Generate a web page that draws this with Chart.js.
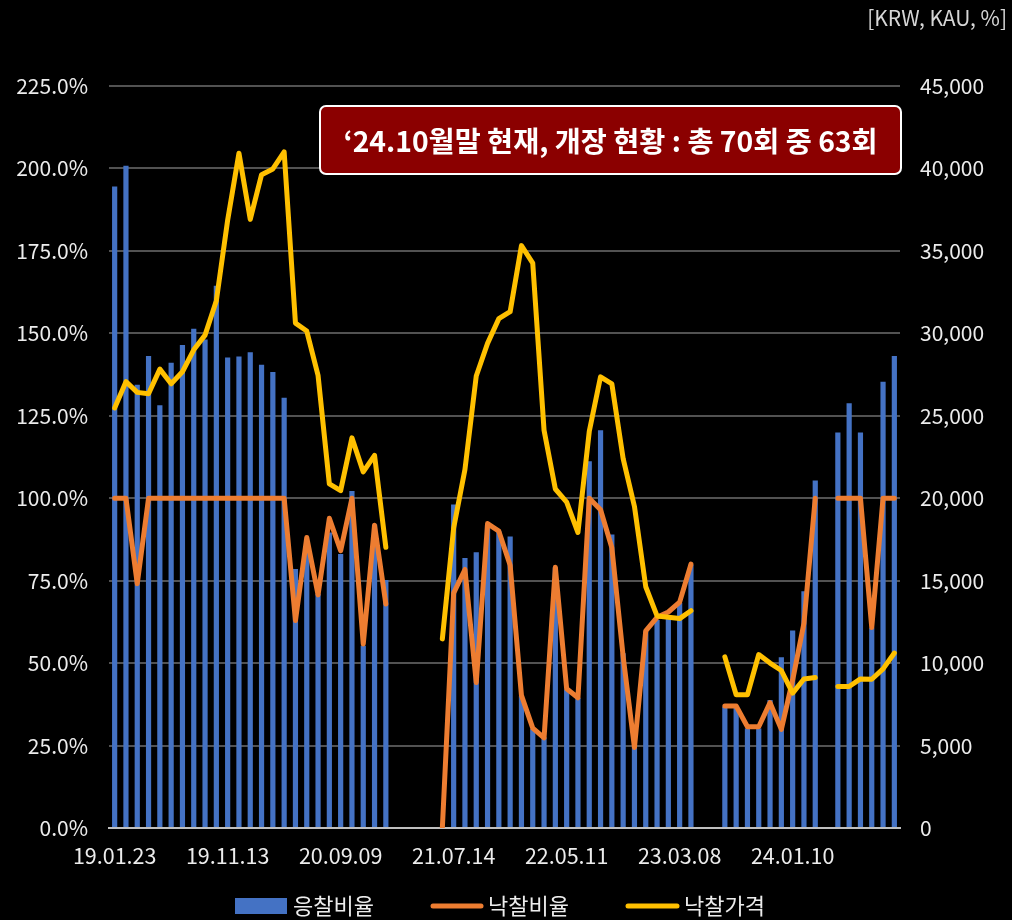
<!DOCTYPE html>
<html>
<head>
<meta charset="utf-8">
<script src="https://cdn.jsdelivr.net/npm/chart.js@4.4.1/dist/chart.umd.min.js"></script>
<style>
  html, body { margin: 0; padding: 0; background: #000; }
  #wrap { width: 1012px; height: 920px; }
</style>
</head>
<body>
<div id="wrap"><canvas id="grafico" width="1012" height="920"></canvas></div>
<script>
// x 라벨: 10회마다 한 번씩 표시
const tickDates = ['19.01.23', '19.11.13', '20.09.09', '21.07.14', '22.05.11', '23.03.08', '24.01.10'];
const tickEvery = 10;
const totalRounds = 70;

// 응찰비율 (%)
const bidRatio = [
  194.5, 200.8, 134.4, 143.1, 128.2, 141.1, 146.5, 151.4, 148.1, 164.4,
  142.7, 143.0, 144.3, 140.5, 138.3, 130.5, 78.5, 87.0, 71.0, 89.6,
  83.1, 102.2, 55.3, 92.0, 75.2, null, null, null, null, null,
  98.1, 81.9, 83.6, 92.0, 90.0, 88.4, 40.0, 30.0, 27.5, 79.0,
  42.0, 39.5, 111.2, 120.6, 89.0, 53.0, 24.6, 59.6, 63.1, 64.6,
  68.2, 79.8, null, null, 36.8, 36.8, 30.2, 30.2, 38.8, 51.8,
  59.9, 71.8, 105.4, null, 119.9, 128.8, 119.9, 60.7, 135.3, 143.1
];

// 낙찰비율 (%)
const awardRatio = [
  100, 100, 74.1, 100, 100, 100, 100, 100, 100, 100,
  100, 100, 100, 100, 100, 100, 62.9, 88.1, 70.7, 93.9,
  84.1, 100, 55.8, 91.8, 67.9, null, null, null, null, 0,
  71.2, 78.4, 44.1, 92.3, 90.0, 79.7, 40.2, 30.3, 27.3, 79.1,
  42.2, 39.5, 100, 96.5, 85.0, 52.0, 24.4, 59.8, 63.9, 65.5,
  68.5, 80.0, null, null, 37.0, 37.0, 30.7, 30.7, 38.0, 29.9,
  44.9, 62.1, 100, null, 100, 100, 100, 60.8, 100, 100
];

// 낙찰가격 (KRW)
const awardPrice = [
  25470, 27070, 26420, 26340, 27830, 26940, 27670, 29000, 29890, 31980,
  36860, 40920, 36910, 39620, 39970, 41000, 30620, 30140, 27450, 20870,
  20460, 23660, 21600, 22600, 17020, null, null, null, null, 11470,
  18190, 21740, 27410, 29390, 30890, 31310, 35320, 34260, 24120, 20560,
  19770, 17920, 24040, 27360, 26940, 22400, 19500, 14630, 12860, 12780,
  12700, 13180, null, null, 10380, 8080, 8080, 10520, 10000, 9550,
  8180, 9040, 9130, null, 8580, 8580, 9040, 9020, 9650, 10610
];

const seriesNames = ['응찰비율', '낙찰비율', '낙찰가격'];
const unitText = '[KRW, KAU, %]';
const noteText = '\u201824.10월말 현재, 개장 현황 : 총 70회 중 63회';

const FONT = "'Noto Sans CJK KR', 'Noto Sans', sans-serif";
const TEXT = '#ececec';

// 박스 안내문, 단위, 범례
const extrasPlugin = {
  id: 'extras',
  afterDraw(chart) {
    const c = chart.ctx;
    c.save();

    // 단위
    c.fillStyle = '#d6d6d6';
    c.font = '21px ' + FONT;
    c.textAlign = 'right';
    c.textBaseline = 'middle';
    c.fillText(unitText, 1007, 18);

    // 안내 박스
    let bx = 320, by = 106, bw = 581, bh = 68;
    c.beginPath();
    c.roundRect(bx, by, bw, bh, 6);
    c.fillStyle = '#8b0000';
    c.fill();
    c.lineWidth = 2;
    c.strokeStyle = '#ffffff';
    c.stroke();
    c.font = 'bold 26px ' + FONT;
    let w = c.measureText(noteText).width;
    let size = Math.round(26 * 535 / w * 10) / 10;
    c.font = 'bold ' + size + 'px ' + FONT;
    c.fillStyle = '#ffffff';
    c.textAlign = 'center';
    c.fillText(noteText, bx + bw / 2, by + bh / 2 + 1);

    // 범례
    let ly = 906;
    c.font = '22px ' + FONT;
    c.textAlign = 'left';
    c.fillStyle = '#4472c4';
    c.fillRect(235, ly - 8, 52, 16);
    c.fillStyle = TEXT;
    c.fillText(seriesNames[0], 293, ly);

    c.lineCap = 'round';
    c.lineWidth = 5;
    c.strokeStyle = '#ed7d31';
    c.beginPath(); c.moveTo(433, ly); c.lineTo(481, ly); c.stroke();
    c.fillText(seriesNames[1], 488, ly);

    c.strokeStyle = '#ffc000';
    c.beginPath(); c.moveTo(628, ly); c.lineTo(677, ly); c.stroke();
    c.fillText(seriesNames[2], 684, ly);

    c.restore();
  }
};

function drawChart() {
  let ctx = document.getElementById('grafico').getContext('2d');
  Chart.defaults.font.family = FONT;
  Chart.defaults.color = TEXT;

  let labels = [];
  for (let i = 0; i < totalRounds; i++) {
    labels.push(i % tickEvery === 0 ? tickDates[i / tickEvery] : '');
  }

  const data = {
    labels: labels,
    datasets: [
      {
        type: 'line',
        label: seriesNames[2],
        data: awardPrice,
        yAxisID: 'y1',
        borderColor: '#ffc000',
        borderWidth: 5,
        pointRadius: 0,
        tension: 0,
        borderCapStyle: 'round',
        borderJoinStyle: 'round',
        order: 0
      },
      {
        type: 'line',
        label: seriesNames[1],
        data: awardRatio,
        yAxisID: 'y',
        borderColor: '#ed7d31',
        borderWidth: 5,
        pointRadius: 0,
        tension: 0,
        borderCapStyle: 'round',
        borderJoinStyle: 'round',
        order: 1
      },
      {
        type: 'bar',
        label: seriesNames[0],
        data: bidRatio,
        yAxisID: 'y',
        backgroundColor: '#4472c4',
        barPercentage: 0.46,
        categoryPercentage: 1,
        order: 2
      }
    ]
  };

  const config = {
    type: 'bar',
    data: data,
    plugins: [extrasPlugin],
    options: {
      responsive: false,
      animation: false,
      layout: {
        padding: { left: 0, right: 0, top: 86, bottom: 42 }
      },
      plugins: {
        legend: false,
        tooltip: false
      },
      scales: {
        x: {
          grid: { display: false, drawTicks: false },
          border: { color: '#bfbfbf', width: 2 },
          ticks: {
            autoSkip: false,
            maxRotation: 0,
            padding: 15,
            font: { size: 21.5 },
            callback: function(value, index) { return labels[index]; }
          },
          afterFit: function(scale) { scale.height = 50; }
        },
        y: {
          position: 'left',
          min: 0,
          max: 225,
          grid: { color: '#525252', lineWidth: 2, drawTicks: false },
          border: { display: false },
          ticks: {
            stepSize: 25,
            padding: 21,
            font: { size: 21 },
            callback: function(v) { return v.toFixed(1) + '%'; }
          },
          afterFit: function(scale) { scale.width = 109; }
        },
        y1: {
          position: 'right',
          min: 0,
          max: 45000,
          grid: { display: false, drawTicks: false },
          border: { display: false },
          ticks: {
            stepSize: 5000,
            padding: 20,
            font: { size: 21 },
            callback: function(v) { return v.toLocaleString('en-US'); }
          },
          afterFit: function(scale) { scale.width = 112; }
        }
      }
    }
  };
  new Chart(ctx, config);
}

drawChart();
</script>
</body>
</html>
